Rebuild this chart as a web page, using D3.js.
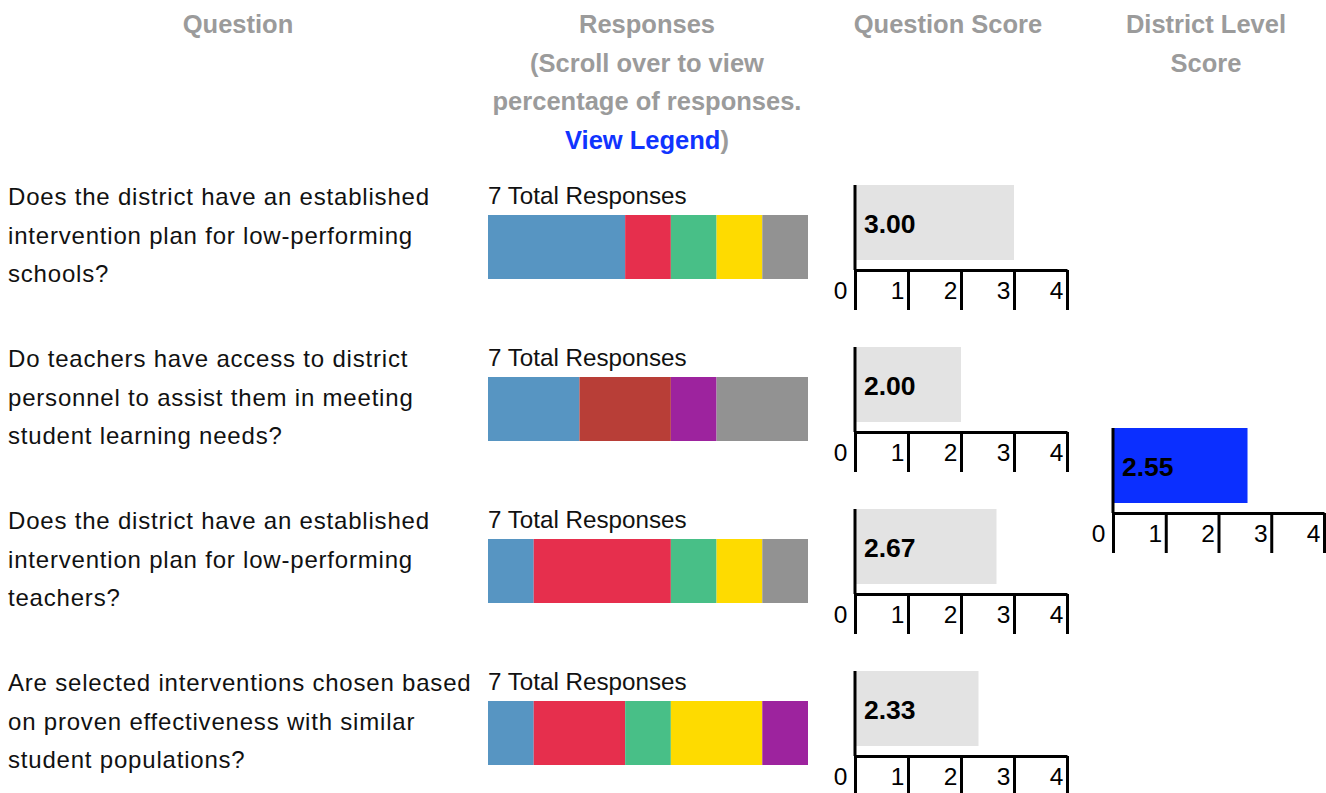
<!DOCTYPE html>
<html>
<head>
<meta charset="utf-8">
<script src="https://cdn.jsdelivr.net/npm/d3@7"></script>
<style>
  body { margin: 0; background: #fff; }
  svg text { font-family: "Liberation Sans", Arial, sans-serif; }
</style>
</head>
<body>
<svg class="chart"></svg>
<script>
// question text, already broken into the lines shown
var questionLines = [
  ["Does the district have an established", "intervention plan for low-performing", "schools?"],
  ["Do teachers have access to district", "personnel to assist them in meeting", "student learning needs?"],
  ["Does the district have an established", "intervention plan for low-performing", "teachers?"],
  ["Are selected interventions chosen based", "on proven effectiveness with similar", "student populations?"]
];

// response options, in stacking order
var responseOptions = ["Option 1", "Option 2", "Option 3", "Option 4", "Option 5", "Option 6", "Option 7"];
var responseColors = ["#5795c2", "#e62f4d", "#b83e37", "#48bf87", "#fedb00", "#9d239e", "#929292"];

// number of responses per option, one array per question
var q1Counts = [3, 1, 0, 1, 1, 0, 1];
var q2Counts = [2, 0, 2, 0, 0, 1, 2];
var q3Counts = [1, 3, 0, 1, 1, 0, 1];
var q4Counts = [1, 2, 0, 1, 2, 1, 0];
var responseCounts = [q1Counts, q2Counts, q3Counts, q4Counts];

var questionScores = [3.00, 2.00, 2.67, 2.33];
var districtScore = 2.55;
var scoreTicks = [0, 1, 2, 3, 4];

var headerLines = {
  question: ["Question"],
  responses: ["Responses", "(Scroll over to view", "percentage of responses."],
  score: ["Question Score"],
  district: ["District Level", "Score"]
};

var width = 1326, height = 793;
var lineH = 38.5;

var svg = d3.select(".chart").attr("width", width).attr("height", height);

var color = d3.scaleOrdinal().domain(responseOptions).range(responseColors);

// vertical position of each row (top of the question score bar)
var rowY = d3.scaleLinear().domain([0, questionLines.length - 1]).range([185, 671]);

// ---- headers
function header(lines, cx) {
  var t = svg.append("text")
    .attr("text-anchor", "middle")
    .style("font-size", "25.5px")
    .style("font-weight", "bold")
    .style("fill", "#9b9b9b");
  lines.forEach(function(l, i) {
    t.append("tspan").attr("x", cx).attr("y", 33 + i * lineH).text(l);
  });
  return t;
}
header(headerLines.question, 238);
var respHeader = header(headerLines.responses, 647);
var legendLine = respHeader.append("tspan").attr("x", 647).attr("y", 33 + 3 * lineH);
legendLine.append("tspan").style("fill", "#1034ff").text("View Legend");
legendLine.append("tspan").text(")");
header(headerLines.score, 948);
header(headerLines.district, 1206);

// ---- question text
var rows = svg.selectAll("g.row")
  .data(questionLines)
  .enter().append("g")
  .attr("class", "row")
  .attr("transform", function(d, i) { return "translate(0," + rowY(i) + ")"; });

rows.append("text")
  .style("font-size", "24px")
  .style("letter-spacing", "0.8px")
  .style("fill", "#111")
  .selectAll("tspan")
  .data(function(d) { return d; })
  .enter().append("tspan")
  .attr("x", 8)
  .attr("y", function(d, i) { return 20 + i * lineH; })
  .text(function(d) { return d; });

// ---- stacked responses
var respX = d3.scaleLinear().range([488, 808]);

rows.append("text")
  .attr("x", 488)
  .attr("y", 19)
  .style("font-size", "24.2px")
  .style("fill", "#111")
  .text(function(d, i) { return d3.sum(responseCounts[i]) + " Total Responses"; });

rows.each(function(d, i) {
  var counts = responseCounts[i];
  respX.domain([0, d3.sum(counts)]);
  var stacked = [], acc = 0;
  counts.forEach(function(c, j) {
    stacked.push({ key: responseOptions[j], x0: acc, x1: acc + c });
    acc += c;
  });
  d3.select(this).selectAll("rect.resp")
    .data(stacked.filter(function(s) { return s.x1 > s.x0; }))
    .enter().append("rect")
    .attr("class", "resp")
    .attr("x", function(s) { return respX(s.x0); })
    .attr("width", function(s) { return respX(s.x1) - respX(s.x0); })
    .attr("y", 30)
    .attr("height", 64)
    .attr("fill", function(s) { return color(s.key); })
    .append("title")
    .text(function(s) { return s.key + ": " + d3.format(".0%")((s.x1 - s.x0) / acc); });
});

// ---- score bar chart helper
var barH = 75, axisGap = 10, tickLen = 40;

function scoreChart(g, x, value, fill) {
  g.append("rect")
    .attr("x", x(0))
    .attr("y", 0)
    .attr("width", x(value) - x(0))
    .attr("height", barH)
    .attr("fill", fill);

  g.append("text")
    .attr("x", x(0) + 9)
    .attr("y", 48)
    .style("font-size", "26.5px")
    .style("font-weight", "bold")
    .style("fill", "#000")
    .text(d3.format(".2f")(value));

  // left axis line
  g.append("line")
    .attr("x1", x(0)).attr("x2", x(0))
    .attr("y1", 0).attr("y2", barH + axisGap)
    .attr("stroke", "#000")
    .attr("stroke-width", 3);

  var ax = g.append("g")
    .attr("transform", "translate(0," + (barH + axisGap) + ")")
    .call(d3.axisBottom(x).tickValues(scoreTicks).tickSize(tickLen).tickSizeOuter(0).tickFormat(d3.format("d")));
  ax.select(".domain").attr("stroke-width", 3).attr("stroke", "#000");
  ax.selectAll(".tick line").attr("stroke-width", 3).attr("stroke", "#000");
  ax.selectAll(".tick text")
    .attr("text-anchor", "end")
    .attr("x", function(d) { return d === 0 ? -8 : -4; })
    .attr("y", 29)
    .attr("dy", 0)
    .style("font-size", "24.5px")
    .style("font-family", "'Liberation Sans', Arial, sans-serif")
    .style("fill", "#000");
}

var scoreX = d3.scaleLinear().domain([0, 4]).range([855, 1067]);
rows.each(function(d, i) {
  scoreChart(d3.select(this), scoreX, questionScores[i], "#e3e3e3");
});

var districtX = d3.scaleLinear().domain([0, 4]).range([1113, 1324]);
var districtG = svg.append("g").attr("transform", "translate(0,428)");
scoreChart(districtG, districtX, districtScore, "#0b2fff");
</script>
</body>
</html>
